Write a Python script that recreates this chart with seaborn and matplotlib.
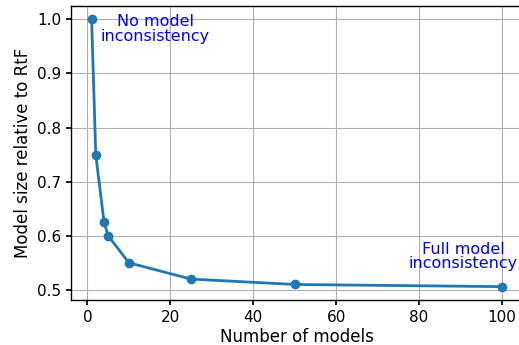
import matplotlib
matplotlib.use("Agg")
import matplotlib.pyplot as plt
import seaborn as sns
import pandas as pd

num_models = [1, 2, 4, 5, 10, 25, 50, 100]
relative_size = [1.0, 0.75, 0.625, 0.6, 0.55, 0.52, 0.51, 0.506]

sns.set_theme(style="whitegrid")
plt.rcParams.update({
    "axes.edgecolor": "black",
    "axes.linewidth": 1.0,
    "grid.color": "#b0b0b0",
    "grid.linewidth": 0.8,
    "xtick.bottom": True,
    "ytick.left": True,
    "xtick.major.size": 3.5,
    "ytick.major.size": 3.5,
    "xtick.major.pad": 3.5,
    "ytick.major.pad": 3.5,
    "xtick.color": "black",
    "ytick.color": "black",
    "axes.labelcolor": "black",
})
plt.rcParams["font.family"] = ["DejaVu Sans"]

df = pd.DataFrame({"models": num_models, "size": relative_size})

fig = plt.figure(figsize=(5.19, 3.45), dpi=100)
ax = fig.add_axes([71.1 / 519, 1 - 300 / 345, (522.5 - 71.1) / 519, (300 - 6) / 345])
sns.lineplot(data=df, x="models", y="size", marker="o", markersize=7,
             markeredgewidth=0, linewidth=2, color="#1f77b4", ax=ax)
ax.set_xlabel("Number of models", fontsize=12, labelpad=2)
ax.set_ylabel("Model size relative to RtF", fontsize=12)
ax.tick_params(labelsize=11)
ax.set_yticks([0.5, 0.6, 0.7, 0.8, 0.9, 1.0])
ax.set_xticks([0, 20, 40, 60, 80, 100])

ax.text(16.4, 0.982, "No model\ninconsistency", color="blue", fontsize=11.5,
        ha="center", va="center", linespacing=0.95)
ax.text(90.6, 0.5615, "Full model\ninconsistency", color="blue", fontsize=11.5,
        ha="center", va="center", linespacing=0.95)

fig.savefig("out.png", dpi=100)
